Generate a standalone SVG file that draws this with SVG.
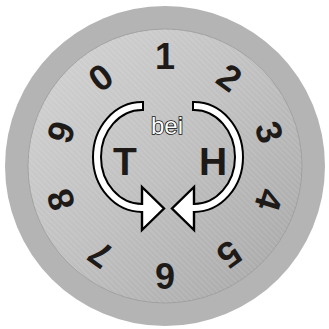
<svg xmlns="http://www.w3.org/2000/svg" width="329" height="329" viewBox="0 0 329 329">
<defs>
<linearGradient id="disc" x1="0" y1="0" x2="1" y2="1">
<stop offset="0" stop-color="#d4d4d4"/>
<stop offset="0.5" stop-color="#c0c0c0"/>
<stop offset="1" stop-color="#a6a6a6"/>
</linearGradient>
<pattern id="brush" width="4" height="4" patternUnits="userSpaceOnUse" patternTransform="rotate(45)">
<rect width="4" height="1" fill="#ffffff" opacity="0.12"/>
</pattern>
<style>
.dig{font-family:"Liberation Sans",Arial,sans-serif;font-weight:bold;font-size:36px;fill:#1e1a18;text-anchor:middle}
.big{font-family:"Liberation Sans",Arial,sans-serif;font-weight:bold;font-size:39px;fill:#1e1a18;text-anchor:middle}
.bei{font-family:"Liberation Sans",Arial,sans-serif;font-size:24px;fill:#ffffff;stroke:#111;stroke-width:1.6;paint-order:stroke;text-anchor:middle}
.bk{fill:none;stroke:#000;stroke-width:10}
.wh{fill:none;stroke:#fff;stroke-width:6}
.head{fill:#fff;stroke:#000;stroke-width:2.4;stroke-linejoin:miter}
</style>
</defs>
<g id="dial">
<circle cx="165" cy="166" r="160" fill="#b4b4b4"/>
<circle cx="165" cy="166" r="137" fill="url(#disc)" stroke="#9a9a9a" stroke-width="0.8"/>
<circle cx="165" cy="166" r="137" fill="url(#brush)"/>
</g>
<g id="digits">
<text class="dig" x="165" y="69" transform="rotate(0 165 166)">1</text>
<text class="dig" x="165" y="69" transform="rotate(36 165 166)">2</text>
<text class="dig" x="165" y="69" transform="rotate(72 165 166)">3</text>
<text class="dig" x="165" y="69" transform="rotate(108 165 166)">4</text>
<text class="dig" x="165" y="69" transform="rotate(144 165 166)">5</text>
<text class="dig" x="165" y="69" transform="rotate(180 165 166)">6</text>
<text class="dig" x="165" y="69" transform="rotate(216 165 166)">7</text>
<text class="dig" x="165" y="69" transform="rotate(252 165 166)">8</text>
<text class="dig" x="165" y="69" transform="rotate(288 165 166)">9</text>
<text class="dig" x="165" y="69" transform="rotate(324 165 166)">0</text>
</g>
<g id="connectors">
<g id="arrow-left">
<path class="bk" d="M144 106 L142 106 A45 51 0 0 0 142 208"/>
<polygon class="head" points="142,187 142,230 164,208.5"/>
<path class="wh" d="M142 106 A45 51 0 0 0 142 208 L147 208"/>
</g>
<g id="arrow-right">
<path class="bk" d="M192 106 L194 106 A45 51 0 0 1 194 208"/>
<polygon class="head" points="194,187 194,230 172,208.5"/>
<path class="wh" d="M194 106 A45 51 0 0 1 194 208 L189 208"/>
</g>
</g>
<g id="label-bei"><text class="bei" x="167" y="134">bei</text></g>
<g id="label-T"><text class="big" x="125" y="175">T</text></g>
<g id="label-H"><text class="big" x="213" y="175">H</text></g>
</svg>
